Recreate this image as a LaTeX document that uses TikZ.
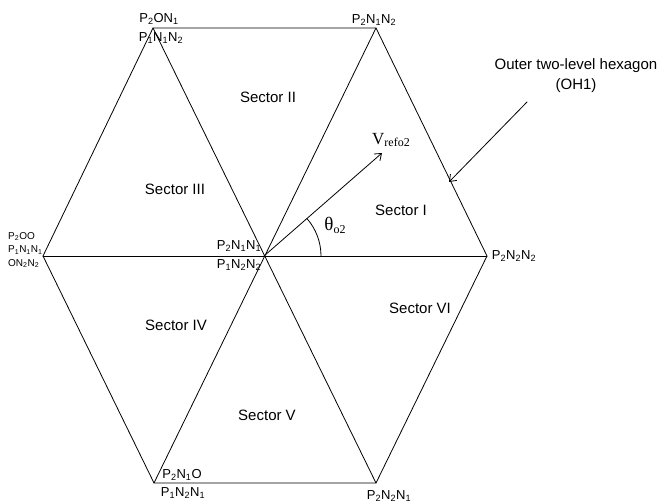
\documentclass[tikz,border=0pt]{standalone}
\usepackage{fontspec}
\setmainfont{Liberation Sans}
\newfontfamily\serifface{Liberation Serif}
\usetikzlibrary{arrows.meta,calc}
\begin{document}
\begin{tikzpicture}[x=1pt,y=-1pt,
  ln/.style={line width=0.8pt, line cap=round, line join=miter},
  tip/.style={-{Straight Barb[length=6pt,width=9pt,line width=0.8pt]}},
  vlab/.style={font=\fontsize{13}{14}\selectfont, inner sep=0pt},
  slab/.style={font=\fontsize{10}{13.5}\selectfont, inner sep=0pt, align=left},
  sec/.style={font=\fontsize{15}{16}\selectfont, inner sep=0pt}]
\useasboundingbox (0,0) rectangle (659,503);
\fill[white] (0,0) rectangle (659,503);
% vertices
\coordinate (C) at (264,256);
\coordinate (TL) at (153,28);
\coordinate (TR) at (376,28);
\coordinate (R) at (487,256);
\coordinate (BR) at (376,483);
\coordinate (BL) at (154,483);
\coordinate (L) at (43,256);
% hexagon and diagonals
\draw[ln] (TL) -- (TR) -- (R) -- (BR) -- (BL) -- (L) -- cycle;
\draw[ln] (L) -- (R);
\draw[ln] (TL) -- (BR);
\draw[ln] (TR) -- (BL);
% reference vector
\coordinate (Vt) at (382,153);
\draw[ln,tip] (C) -- (Vt);
\node[inner sep=0pt, anchor=base west] (vref) at (372,144)
  {\serifface\fontsize{17}{18}\selectfont V\fontsize{12}{13}\selectfont\raisebox{-2pt}{refo2}};
% angle arc
\coordinate (A0) at (321,256);
\draw[ln] (A0) arc[start angle=0, end angle=41.1, radius=57pt];
\node[inner sep=0pt] (theta) at (335,225)
  {\serifface\fontsize{19}{20}\selectfont θ\fontsize{12}{13}\selectfont\raisebox{-3pt}{o2}};
% outer hexagon annotation
\node[inner sep=0pt, align=center, font=\fontsize{15}{20}\selectfont] (oh) at (576,76)
  {Outer two-level hexagon\\(OH1)};
\coordinate (ohs) at (527,102);
\coordinate (ohe) at (449,182);
\draw[ln,tip] (ohs) -- (ohe);
% sector labels
\node[sec] (s1) at (401,210) {Sector I};
\node[sec] (s2) at (268,97) {Sector II};
\node[sec] (s3) at (175,189) {Sector III};
\node[sec] (s4) at (176,325) {Sector IV};
\node[sec] (s5) at (267,415) {Sector V};
\node[sec] (s6) at (420,308) {Sector VI};
% vertex labels
\node[vlab] (tla) at (159,19) {P\textsubscript{2}ON\textsubscript{1}};
\node[vlab] (tlb) at (161,38) {P\textsubscript{1}N\textsubscript{1}N\textsubscript{2}};
\node[vlab] (tr) at (374,20) {P\textsubscript{2}N\textsubscript{1}N\textsubscript{2}};
\node[vlab] (rr) at (514,256) {P\textsubscript{2}N\textsubscript{2}N\textsubscript{2}};
\node[vlab] (ca) at (239,246) {P\textsubscript{2}N\textsubscript{1}N\textsubscript{1}};
\node[vlab] (cb) at (239,265) {P\textsubscript{1}N\textsubscript{2}N\textsubscript{2}};
\node[vlab] (bla) at (182,475) {P\textsubscript{2}N\textsubscript{1}O};
\node[vlab] (blb) at (183,493) {P\textsubscript{1}N\textsubscript{2}N\textsubscript{1}};
\node[vlab] (br) at (389,496) {P\textsubscript{2}N\textsubscript{2}N\textsubscript{1}};
\node[slab, anchor=west] (ll) at (8,250)
  {P\textsubscript{2}OO\\P\textsubscript{1}N\textsubscript{1}N\textsubscript{1}\\ON\textsubscript{2}N\textsubscript{2}};
\end{tikzpicture}
\end{document}
